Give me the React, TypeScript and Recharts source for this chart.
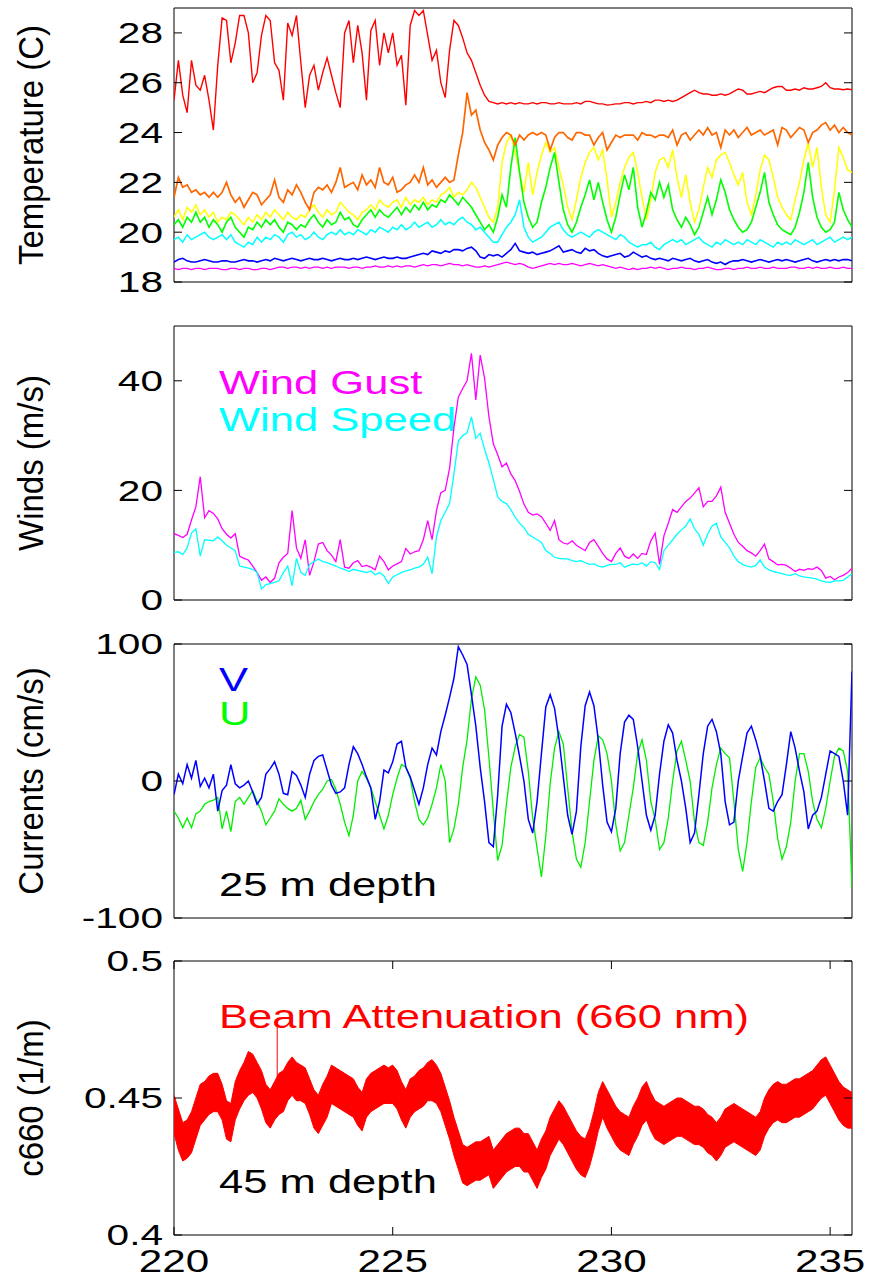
import React from "react";
import {
  LineChart,
  ComposedChart,
  Line,
  Area,
  XAxis,
  YAxis,
  ReferenceArea,
  Customized,
} from "recharts";

// ---------------- data (time step 0.1 day starting at 220.0) ----------------
const X0 = 220;
const DX = 0.1;

const tempRed = [
  25.3, 26.9, 25.5, 24.8, 26.9, 25.9, 25.7, 26.3, 25.3, 24.1,
  26.7, 28.6, 28.5, 26.8, 27.6, 28.7, 28.7, 28.0, 26.0, 26.4,
  27.9, 28.7, 28.5, 26.8, 26.5, 25.3, 28.4, 27.9, 28.7, 26.8,
  25.0, 26.3, 26.7, 25.7, 26.4, 27.0, 26.3, 25.6, 25.0, 28.0,
  28.5, 26.8, 28.3, 27.2, 25.3, 28.1, 28.5, 26.7, 28.0, 27.2,
  28.0, 26.7, 27.1, 25.1, 28.3, 28.9, 28.7, 28.9, 27.9, 26.9,
  27.3, 26.0, 25.4, 27.3, 28.5, 28.3, 27.8, 27.2, 26.9, 26.4,
  25.9, 25.5, 25.25, 25.2, 25.15, 25.2, 25.15, 25.2, 25.15, 25.2,
  25.15, 25.15, 25.2, 25.15, 25.2, 25.2, 25.15, 25.15, 25.2, 25.15,
  25.15, 25.15, 25.2, 25.15, 25.25, 25.25, 25.2, 25.15, 25.15, 25.1,
  25.12, 25.15, 25.15, 25.2, 25.2, 25.15, 25.2, 25.2, 25.25, 25.2,
  25.3, 25.3, 25.25, 25.3, 25.25, 25.3, 25.4, 25.5, 25.6, 25.7,
  25.6, 25.55, 25.55, 25.5, 25.5, 25.55, 25.5, 25.55, 25.65, 25.75,
  25.7, 25.55, 25.55, 25.6, 25.65, 25.6, 25.7, 25.8, 25.85, 25.85,
  25.7, 25.7, 25.75, 25.7, 25.8, 25.75, 25.75, 25.8, 25.85, 26.0,
  25.8, 25.75, 25.75, 25.72, 25.75, 25.72,
];

const tempOrange = [
  21.4, 22.2, 21.8, 21.9, 21.6, 21.7, 21.5, 21.6, 21.4, 21.6,
  21.4, 21.6, 22.0, 21.5, 21.2, 21.4, 21.0, 21.3, 21.6, 21.5,
  21.1, 21.3, 21.5, 22.1, 21.4, 21.2, 21.7, 21.5, 21.9, 21.6,
  21.2, 20.9, 21.6, 21.8, 21.7, 21.9, 21.6, 22.0, 22.6, 21.8,
  21.9, 22.0, 21.7, 22.3, 21.9, 22.1, 21.8, 22.6, 22.0, 21.9,
  22.2, 21.6, 21.7, 21.9, 22.0, 22.3, 22.0, 22.6, 21.9, 22.1,
  21.8, 22.0, 22.2, 22.0, 22.1, 23.1, 24.0, 25.6, 24.7, 24.9,
  24.1, 23.6, 23.3, 22.9, 23.5, 23.8, 24.0, 23.9, 23.5, 23.9,
  23.7, 23.9, 24.0, 23.9, 24.0, 23.9, 23.3, 23.8, 24.0, 24.0,
  23.8, 23.7, 24.0, 24.0, 23.9, 23.9, 23.5, 23.8, 24.0, 23.3,
  23.6, 23.9, 23.8, 23.9, 23.9, 23.9, 23.7, 24.0, 23.9, 23.9,
  23.8, 23.9, 23.9, 23.8, 24.1, 23.5, 23.9, 24.0, 23.7, 23.9,
  24.1, 23.9, 24.2, 23.9, 24.0, 23.4, 24.1, 23.9, 24.1, 23.8,
  24.0, 24.2, 23.9, 24.0, 24.1, 23.9, 24.0, 24.1, 23.5, 24.2,
  24.1, 23.8, 24.0, 24.2, 24.1, 23.6, 24.0, 24.1, 24.3, 24.4,
  24.1, 24.3, 24.0, 24.2, 24.0, 23.9,
];

const tempYellow = [
  20.6, 20.9, 20.5, 21.0, 20.8, 21.1, 20.7, 20.9, 20.6, 20.8,
  20.4, 20.6, 20.5, 20.8, 20.7, 20.5, 20.3, 20.6, 20.4, 20.7,
  20.5, 20.8, 20.6, 20.9, 20.7, 20.5, 20.8, 20.6, 20.5, 20.7,
  20.6, 20.9, 21.1, 20.8, 20.6, 20.9, 20.7, 20.8, 21.2, 21.0,
  20.8, 20.7, 20.5, 20.8, 20.9, 21.1, 20.9, 21.3, 21.1, 21.0,
  21.2, 21.3, 21.0, 21.4, 21.1, 21.3, 21.2, 21.4, 21.1, 21.3,
  21.2, 21.5, 21.6, 21.8, 21.4, 21.6, 21.5, 21.7, 22.0, 21.8,
  21.4, 21.0, 20.6, 20.4, 21.0, 22.8, 23.6, 23.9, 23.2, 22.4,
  21.6, 22.8, 21.5, 22.4, 23.1, 23.6, 23.2, 23.4, 22.6, 21.9,
  21.0, 20.5, 21.3, 22.2, 22.8, 23.2, 23.4, 22.9, 23.3, 22.1,
  20.6, 21.2, 22.0, 22.6, 23.0, 23.2, 22.4, 21.4, 20.5, 21.3,
  22.4, 22.9, 23.0, 22.6, 23.3, 22.2, 21.4, 22.3, 21.2, 20.4,
  20.9, 21.8, 22.6, 22.2, 22.9, 23.1, 23.2, 22.8, 22.3, 21.9,
  22.4, 21.2, 20.7, 21.5, 22.5, 23.1, 22.9, 22.2, 21.4, 21.0,
  20.7, 20.5, 21.3, 22.0, 22.9, 23.6, 22.6, 23.4, 21.8, 20.7,
  20.4, 21.7, 23.4, 23.0, 22.5, 22.4,
];

const tempGreen = [
  20.3, 20.5, 20.2, 20.6, 20.4, 20.8, 20.4, 20.6, 20.2, 20.5,
  20.3, 20.0, 20.4, 20.6, 20.2, 20.0, 19.8, 20.2, 20.1, 20.4,
  20.2, 20.5, 20.3, 20.5, 20.2, 20.0, 20.4, 20.3, 20.1, 20.3,
  20.2, 20.5, 20.7, 20.4, 20.2, 20.5, 20.3, 20.4, 20.8, 20.5,
  20.6, 20.3, 20.2, 20.5, 20.7, 20.9, 20.6, 20.9, 20.7, 20.6,
  20.8, 21.0, 20.7, 21.0, 20.8, 21.1, 20.9, 21.2, 20.9, 21.1,
  21.0, 21.3, 21.2, 21.5, 21.3, 21.1, 21.4, 21.2, 21.0, 20.7,
  20.4, 20.1, 20.3, 20.0, 20.6, 21.5, 21.0, 22.6, 23.8, 22.4,
  21.2, 20.6, 20.2, 20.4, 21.2, 21.8, 22.6, 23.2, 22.0, 20.9,
  20.3, 20.0, 20.4, 21.0, 21.5, 22.1, 21.3, 22.0, 21.2, 20.5,
  20.0, 20.6, 21.5, 22.3, 21.7, 22.6, 21.0, 20.2, 20.8, 21.6,
  21.3, 22.0, 21.4, 21.9, 20.9, 20.5, 20.2, 20.6, 20.3, 19.9,
  20.2, 20.8, 21.4, 20.7, 21.3, 22.1, 21.6, 20.9, 20.5, 20.2,
  20.0, 20.1, 20.4, 21.0, 21.6, 22.4, 21.2, 20.7, 20.3, 20.1,
  20.0, 19.9, 20.2, 20.8, 21.6, 22.8, 21.4, 20.6, 20.2, 20.0,
  20.1, 20.4, 21.6, 20.9, 20.5, 20.2,
];

const tempCyan = [
  19.7, 19.8, 19.6, 19.9, 19.7, 19.8, 19.9, 20.0, 19.8, 19.7,
  19.8, 19.9, 19.7, 19.9, 19.6, 19.5, 19.4, 19.6, 19.5, 19.8,
  19.6, 19.8, 19.7, 19.9, 19.8, 19.6, 19.9, 20.0, 19.8, 19.9,
  19.7, 19.8, 20.0, 19.8, 19.7, 19.9, 20.0, 19.9, 20.1, 19.9,
  20.0, 19.9, 20.1, 20.0, 19.9, 20.1, 20.0, 20.2, 20.1, 20.0,
  20.2, 20.1, 20.3, 20.1, 20.2, 20.4, 20.2, 20.3, 20.4, 20.2,
  20.3, 20.5, 20.3, 20.4, 20.3, 20.5, 20.6, 20.4, 20.3, 20.1,
  20.2, 20.0, 19.8, 19.6, 19.6, 19.9, 20.2, 20.4, 20.7, 21.3,
  20.2, 19.8, 19.6, 19.7, 19.8, 20.0, 20.2, 20.3, 20.4, 20.1,
  19.9, 19.8, 19.9, 20.0, 19.9, 19.8, 20.0, 20.1, 20.0, 19.9,
  19.8, 19.7, 19.9, 19.8, 19.6, 19.5, 19.4, 19.5, 19.5, 19.6,
  19.4, 19.3, 19.5, 19.6, 19.7, 19.6, 19.7, 19.5, 19.6, 19.7,
  19.8, 19.6, 19.5, 19.4, 19.6, 19.5, 19.7, 19.6, 19.5, 19.6,
  19.5, 19.7, 19.6, 19.5, 19.7, 19.6, 19.5, 19.4, 19.6, 19.5,
  19.6, 19.5, 19.7, 19.6, 19.5, 19.6, 19.7, 19.5, 19.6, 19.7,
  19.8, 19.6, 19.7, 19.8, 19.7, 19.8,
];

const tempBlue = [
  18.8, 18.9, 18.95, 18.85, 18.8, 18.8, 18.85, 18.9, 18.85, 18.8,
  18.8, 18.85, 18.85, 18.8, 18.8, 18.85, 18.9, 18.85, 18.85, 18.8,
  18.85, 18.9, 18.85, 18.95, 18.9, 18.85, 18.9, 18.95, 18.9, 18.85,
  18.9, 18.95, 18.9, 18.9, 18.95, 18.9, 18.85, 18.9, 18.95, 18.9,
  18.9, 18.95, 18.9, 18.95, 19.0, 18.95, 18.9, 18.95, 19.0, 18.95,
  18.95, 19.0, 18.95, 18.95, 19.0, 19.05, 19.1, 19.15, 19.1, 19.25,
  19.2, 19.15, 19.25, 19.2, 19.3, 19.3, 19.25, 19.35, 19.4, 19.25,
  19.0, 18.95, 19.1, 19.05, 19.1, 19.0, 19.15, 19.3, 19.55, 19.25,
  19.2, 19.15, 19.2, 19.1, 19.15, 19.2, 19.25, 19.35, 19.45, 19.2,
  19.25, 19.3, 19.2, 19.15, 19.35, 19.25, 19.3, 19.15, 19.05, 19.0,
  19.05, 19.1, 19.15, 19.0, 19.05, 19.2, 19.1, 19.0, 19.05, 18.95,
  18.9, 18.95, 18.9, 18.85, 18.95, 18.9, 18.85, 18.9, 18.95, 18.85,
  18.8, 18.85, 18.9, 18.8, 18.75, 18.8, 18.7, 18.8, 18.85, 18.85,
  18.9, 18.85, 18.8, 18.85, 18.9, 18.85, 18.8, 18.85, 18.9, 18.85,
  18.9, 18.85, 18.8, 18.85, 18.9, 18.95, 18.85, 18.8, 18.85, 18.9,
  18.85, 18.9, 18.85, 18.9, 18.9, 18.85,
];

const tempMagenta = [
  18.55, 18.5, 18.55, 18.55, 18.5, 18.55, 18.55, 18.5, 18.55, 18.55,
  18.55, 18.5, 18.5, 18.55, 18.55, 18.5, 18.55, 18.55, 18.5, 18.5,
  18.55, 18.55, 18.5, 18.55, 18.6, 18.6, 18.55, 18.6, 18.6, 18.55,
  18.6, 18.55, 18.6, 18.6, 18.55, 18.6, 18.55, 18.6, 18.6, 18.6,
  18.55, 18.6, 18.6, 18.55, 18.6, 18.6, 18.65, 18.6, 18.6, 18.65,
  18.6, 18.65, 18.6, 18.65, 18.65, 18.6, 18.65, 18.7, 18.65, 18.7,
  18.7, 18.65, 18.7, 18.75, 18.7, 18.7, 18.65, 18.7, 18.65, 18.6,
  18.6, 18.65, 18.6, 18.65, 18.7, 18.75, 18.8, 18.75, 18.7, 18.75,
  18.7, 18.6, 18.55, 18.6, 18.65, 18.7, 18.75, 18.7, 18.75, 18.7,
  18.7, 18.75, 18.7, 18.65, 18.7, 18.75, 18.7, 18.65, 18.7, 18.65,
  18.6, 18.55, 18.6, 18.55, 18.5, 18.55, 18.5, 18.55, 18.55, 18.6,
  18.55, 18.6, 18.55, 18.5, 18.55, 18.55, 18.6, 18.55, 18.55, 18.5,
  18.55, 18.55, 18.6, 18.55, 18.5, 18.5, 18.55, 18.55, 18.5, 18.55,
  18.55, 18.6, 18.55, 18.55, 18.6, 18.55, 18.55, 18.6, 18.55, 18.55,
  18.55, 18.6, 18.6, 18.55, 18.55, 18.6, 18.55, 18.6, 18.55, 18.55,
  18.6, 18.55, 18.55, 18.6, 18.55, 18.55,
];

const windGust = [
  12.1, 11.8, 11.4, 12.0, 14.6, 17.0, 22.5, 15.0, 16.3, 15.8,
  14.8, 13.0, 12.0, 11.3, 12.1, 8.0, 7.6, 7.3, 6.2, 5.0,
  3.6, 4.2, 3.2, 4.0, 6.8, 7.8, 8.5, 16.3, 9.5, 7.6,
  11.0, 4.5, 7.0, 10.2, 10.5, 9.0, 8.2, 7.0, 11.0, 6.0,
  5.8, 6.8, 7.2, 6.1, 6.3, 6.0, 5.5, 8.0, 7.0, 5.5,
  6.2, 6.6, 7.0, 9.4, 8.4, 8.8, 9.0, 11.0, 14.5, 11.0,
  16.3, 19.6, 20.0, 24.0, 31.5, 37.0, 38.6, 40.0, 45.0, 36.5,
  44.7, 40.5, 33.4, 28.5, 26.5, 24.3, 25.0, 23.0, 21.8, 19.8,
  17.5, 16.0, 15.5, 15.7, 15.2, 14.0, 12.7, 14.5, 11.0, 10.4,
  10.2, 10.8, 10.0, 9.5, 9.0, 10.5, 11.0, 9.8, 8.5, 7.5,
  7.0, 8.5, 9.5, 8.0, 7.6, 8.4, 7.6, 8.5, 8.3, 10.8,
  12.2, 6.5, 11.7, 14.0, 16.5, 16.0, 17.0, 18.0, 18.6, 19.5,
  20.5, 17.0, 18.0, 18.0, 19.0, 20.6, 16.0, 14.0, 12.0, 10.5,
  9.8, 9.0, 8.6, 8.0, 9.0, 10.2, 7.5, 7.0, 6.4, 6.5,
  6.3, 5.8, 5.2, 5.6, 5.4, 5.7, 5.6, 6.0, 5.4, 4.0,
  4.3, 3.7, 4.2, 4.5, 5.0, 5.8,
];

const windSpeed = [
  8.7, 8.8, 8.3, 9.5, 12.2, 13.0, 8.0, 11.0, 10.9, 10.8,
  11.5, 10.8, 10.0, 9.5, 9.0, 6.2, 6.0, 5.8, 5.6, 5.0,
  2.0, 2.8, 3.0, 3.2, 3.5, 5.0, 6.2, 2.6, 7.6, 5.0,
  4.5, 6.5, 7.0, 7.5, 7.0, 6.8, 6.5, 6.2, 5.8, 5.6,
  5.2, 5.6, 5.4, 5.2, 5.0, 5.3, 4.6, 5.0, 4.4, 3.0,
  4.2, 4.6, 5.0, 5.3, 5.5, 5.8, 6.0, 6.5, 7.8, 4.8,
  11.5, 14.5, 16.0, 17.6, 23.0, 29.0, 30.0, 30.5, 33.4, 29.5,
  30.4, 27.5, 25.0, 22.0, 18.8, 18.0, 17.6, 16.5, 15.1, 14.0,
  13.2, 12.0, 11.5, 11.0, 10.5, 9.0, 8.5, 7.8, 7.6, 7.5,
  7.5, 7.2, 7.0, 7.2, 6.8, 6.5, 6.6, 6.2, 6.0, 6.3,
  6.5, 6.5, 6.8, 6.0, 6.3, 6.6, 6.4, 6.8, 6.2, 7.0,
  6.8, 5.6, 9.0, 10.0, 11.0, 12.0, 12.8, 13.5, 14.8, 13.0,
  12.0, 10.0, 12.0, 13.5, 14.0, 11.5, 10.5, 9.5, 8.0, 7.0,
  6.5, 6.2, 6.0, 6.3, 7.3, 6.0, 5.5, 5.2, 5.0, 4.8,
  4.6, 4.5, 4.8, 4.4, 4.2, 4.1, 4.0, 3.8, 3.5, 3.3,
  3.2, 3.5, 3.5, 3.6, 4.2, 4.8,
];

const currentV = [
  -10, 5, -2, 12, 2, 15, -4, 2, -5, 5,
  -22, -7, -3, 12, -2, -5, -3, 0, -8, -17,
  -12, 5, 9, 14, 5, -9, -10, 7, 4, -3,
  -12, 5, 15, 18, 19, 8, -3, -9, -8, -5,
  12, 25, 20, 12, 3, -5, -28, -15, 8, 6,
  14, 27, 29, 10, 3, -7, -17, -5, 12, 24,
  19, 36, 48, 61, 75, 98, 92, 85, 63, 40,
  10, -15, -45, -48, -10, 40, 56, 50, 35, 18,
  0, -28, -38, -15, 20, 54, 63, 53, 31, 3,
  -25, -39, -22, 25, 55, 65, 55, 30, -3, -30,
  -37, -20, 20, 43, 48, 45, 25, 0, -25, -36,
  -25, 5, 29, 41, 35, 15, 0, -20, -45, -38,
  -10, 20, 40, 45, 36, 20, -15, -32, -30, 0,
  18, 35, 40, 30, 18, 0, -20, -22, -15, -10,
  12, 36, 24, 7, -8, -35, -25, -22, -12, 5,
  22, 20, 18, 0, -25, 80,
];

const currentU = [
  -22, -27, -34, -27, -34, -24, -22, -17, -15, -14,
  -12, -35, -22, -37, -15, -12, -17, -12, -7, -15,
  -22, -32, -27, -22, -13, -17, -20, -22, -20, -14,
  -28, -22, -15, -10, -6, 0, 1, -6, -17, -30,
  -40, -25, 0, 7, 2, -5, -15, -25, -35, -25,
  -10, 2, 12, 10, 2, -15, -28, -32, -27, -17,
  -5, 12, 0, -45, -35, -17, 10, 30, 60, 76,
  70, 52, 17, -22, -58, -47, -17, 10, 25, 34,
  32, 7, -27, -49, -70, -40, -2, 24, 36, 27,
  -5, -37, -57, -63, -45, -15, 15, 33, 30, 20,
  0, -32, -51, -45, -25, -5, 20, 30, 15, -15,
  -28, -50, -45, -27, 0, 22, 29, 15, 0, -30,
  -45, -47, -30, -5, 12, 24, 20, 17, -15, -50,
  -66, -45, -15, 10, 17, 10, 5, -15, -42, -57,
  -48, -30, 0, 20, 20, 7, -15, -28, -34, -20,
  0, 18, 24, 22, 7, -78,
];

const beamHigh = [
  0.451, 0.446, 0.441, 0.442, 0.445, 0.45, 0.455, 0.456, 0.458, 0.459,
  0.459, 0.455, 0.449, 0.448, 0.456, 0.46, 0.463, 0.467, 0.466, 0.463,
  0.46, 0.455, 0.453, 0.456, 0.459, 0.46, 0.463, 0.465, 0.463, 0.462,
  0.461, 0.457, 0.453, 0.451, 0.455, 0.458, 0.462, 0.461, 0.46, 0.459,
  0.458, 0.457, 0.454, 0.452, 0.457, 0.459, 0.46, 0.461, 0.462, 0.461,
  0.462, 0.46, 0.456, 0.453, 0.457, 0.458, 0.46, 0.461, 0.463, 0.464,
  0.462, 0.459, 0.454, 0.449, 0.443, 0.438, 0.433, 0.432, 0.433, 0.434,
  0.434, 0.435, 0.436, 0.431, 0.433, 0.435, 0.437, 0.438, 0.439, 0.439,
  0.437, 0.437, 0.434, 0.431, 0.435, 0.438, 0.443, 0.446, 0.449, 0.447,
  0.444, 0.441, 0.438, 0.436, 0.435, 0.439, 0.445, 0.452, 0.456, 0.453,
  0.45, 0.447, 0.445, 0.444, 0.443, 0.447, 0.45, 0.454, 0.456, 0.452,
  0.449, 0.448, 0.447, 0.448, 0.449, 0.45, 0.45, 0.449, 0.448, 0.447,
  0.447, 0.446, 0.444, 0.443, 0.441, 0.443, 0.446, 0.447, 0.448, 0.447,
  0.446, 0.445, 0.444, 0.443, 0.445, 0.45, 0.453, 0.455, 0.456, 0.455,
  0.455, 0.456, 0.457, 0.457, 0.458, 0.459, 0.46, 0.462, 0.464, 0.465,
  0.462, 0.459, 0.456, 0.454, 0.453, 0.452,
];

const beamLow = [
  0.437, 0.431, 0.427, 0.428, 0.43, 0.435, 0.44, 0.442, 0.444, 0.445,
  0.445, 0.442, 0.435, 0.434, 0.442, 0.446, 0.449, 0.451, 0.452, 0.45,
  0.446, 0.441, 0.439, 0.442, 0.444, 0.445, 0.449, 0.451, 0.449, 0.449,
  0.448, 0.444, 0.439, 0.437, 0.44, 0.443, 0.448, 0.447, 0.446, 0.445,
  0.444, 0.443, 0.44, 0.438, 0.443, 0.445, 0.446, 0.447, 0.448, 0.448,
  0.448, 0.446, 0.442, 0.439, 0.443, 0.445, 0.446, 0.447, 0.449, 0.449,
  0.448, 0.445, 0.44, 0.435, 0.429, 0.424, 0.419, 0.418, 0.419, 0.42,
  0.42, 0.421, 0.422, 0.417, 0.419, 0.421, 0.423, 0.424, 0.425, 0.425,
  0.423, 0.423, 0.42, 0.417, 0.421, 0.424, 0.429, 0.432, 0.435, 0.433,
  0.43, 0.427, 0.424, 0.422, 0.421, 0.425, 0.431, 0.438, 0.443, 0.439,
  0.436, 0.433, 0.431, 0.43, 0.429, 0.433, 0.436, 0.44, 0.442, 0.438,
  0.435, 0.434, 0.433, 0.434, 0.435, 0.436, 0.436, 0.435, 0.434, 0.433,
  0.433, 0.432, 0.43, 0.429, 0.427, 0.429, 0.432, 0.433, 0.434, 0.433,
  0.432, 0.431, 0.43, 0.429, 0.431, 0.436, 0.439, 0.441, 0.442, 0.441,
  0.441, 0.442, 0.443, 0.443, 0.444, 0.445, 0.446, 0.448, 0.45, 0.451,
  0.448, 0.445, 0.442, 0.44, 0.439, 0.439,
];

const beamSpike = [
  { x: 222.36, y: 0.449 },
  { x: 222.36, y: 0.4765 },
];

const xTicks = [220, 225, 230, 235];
const tempTicks = [18, 20, 22, 24, 26, 28];
const windTicks = [0, 20, 40];
const currentTicks = [-100, 0, 100];
const beamTicks = [0.4, 0.45, 0.5];

const X_DOMAIN: [number, number] = [220, 235.5];
const TEMP_DOMAIN: [number, number] = [18, 29];
const WIND_DOMAIN: [number, number] = [0, 50];
const CURRENT_DOMAIN: [number, number] = [-100, 100];
const BEAM_DOMAIN: [number, number] = [0.4, 0.5];

// ---------------- tables built from the arrays ----------------
const xAt = (i: number) => Math.round((X0 + i * DX) * 100) / 100;

const tempData = tempRed.map((v, i) => ({
  x: xAt(i),
  red: v,
  orange: tempOrange[i],
  yellow: tempYellow[i],
  green: tempGreen[i],
  cyan: tempCyan[i],
  blue: tempBlue[i],
  magenta: tempMagenta[i],
}));

const windData = windGust.map((v, i) => ({ x: xAt(i), gust: v, speed: windSpeed[i] }));
const currentData = currentV.map((v, i) => ({ x: xAt(i), v, u: currentU[i] }));
const beamData = beamHigh.map((h, i) => ({ x: xAt(i), band: [beamLow[i], h] }));

// ---------------- layout / style ----------------
const W = 873;
const PL = 174;
const PR = 852;
const PH = 274;
const MT = 24;
const MB = 24;
const XAXIS_H = 60;
const PANEL_TOPS = [8, 325.5, 643.5, 960.5];
const TICK_LEN = 8;
const FONT = '"Liberation Sans", Arial, Helvetica, sans-serif';

const YT_FS = 29;
const YT_SX = 1.4;
const XT_FS = 31;
const XT_SX = 1.36;
const XT_BASE = 37;
const TITLE_FS = 33;
const TITLE_X = 43;
const TITLE_SX = 1.05;
const NOTE_FS = 33;
const NOTE_SX = 1.32;
const NOTE_X = 219;

function StretchText(props: any) {
  const { x, y, sx, size, fill = "#000", anchor = "start", children } = props;
  return (
    <text
      transform={`translate(${x},${y}) scale(${sx},1)`}
      fontSize={size}
      fill={fill}
      textAnchor={anchor}
      fontFamily={FONT}
    >
      {children}
    </text>
  );
}

function YTick(props: any) {
  const { y, payload } = props;
  return (
    <g>
      <line x1={PL} x2={PL + TICK_LEN} y1={y} y2={y} stroke="#000" strokeWidth={1} />
      <line x1={PR - TICK_LEN} x2={PR} y1={y} y2={y} stroke="#000" strokeWidth={1} />
      <StretchText x={PL - 11} y={y + 0.358 * YT_FS} sx={YT_SX} size={YT_FS} anchor="end">
        {String(payload.value)}
      </StretchText>
    </g>
  );
}

function XTick(props: any) {
  const { x, payload } = props;
  const top = MT;
  const bottom = MT + PH;
  return (
    <g>
      <line x1={x} x2={x} y1={bottom - TICK_LEN} y2={bottom} stroke="#000" strokeWidth={1} />
      <line x1={x} x2={x} y1={top} y2={top + TICK_LEN} stroke="#000" strokeWidth={1} />
      <StretchText x={x} y={bottom + XT_BASE} sx={XT_SX} size={XT_FS} anchor="middle">
        {String(payload.value)}
      </StretchText>
    </g>
  );
}

function YTitle({ text }: { text: string }) {
  const cy = MT + PH / 2;
  return (
    <text
      transform={`translate(${TITLE_X},${cy}) scale(${TITLE_SX},1) rotate(-90)`}
      fontSize={TITLE_FS}
      textAnchor="middle"
      fill="#000"
      fontFamily={FONT}
    >
      {text}
    </text>
  );
}

function Notes({ panel, items }: { panel: number; items: { text: string; y: number; color: string }[] }) {
  const top = PANEL_TOPS[panel] - MT;
  return (
    <g>
      {items.map((it) => (
        <StretchText key={it.text} x={NOTE_X} y={it.y - top} sx={NOTE_SX} size={NOTE_FS} fill={it.color}>
          {it.text}
        </StretchText>
      ))}
    </g>
  );
}

const lineProps = {
  type: "linear" as const,
  dot: false,
  activeDot: false,
  isAnimationActive: false,
};

export default function App() {
  const chartMargin = { top: MT, right: W - PR, bottom: MB, left: 0 };
  const yAxisCommon = {
    type: "number" as const,
    width: PL,
    axisLine: false,
    tickLine: false,
    interval: 0 as const,
    allowDataOverflow: true,
    tick: (p: any) => <YTick {...p} />,
  };
  const hiddenX = (
    <XAxis dataKey="x" type="number" domain={X_DOMAIN} hide allowDataOverflow />
  );

  return (
    <div
      style={{
        position: "absolute",
        left: 0,
        top: 0,
        width: W,
        height: 1300,
        background: "#fff",
      }}
    >
      {/* Panel 1: temperature */}
      <div style={{ position: "absolute", left: 0, top: PANEL_TOPS[0] - MT }}>
        <LineChart width={W} height={MT + PH + MB} data={tempData} margin={chartMargin}>
          {hiddenX}
          <YAxis {...yAxisCommon} domain={TEMP_DOMAIN} ticks={tempTicks} />
          <ReferenceArea x1={220} x2={235.5} y1={18} y2={29} fill="none" stroke="#000" strokeWidth={1} ifOverflow="visible" />
          <Line {...lineProps} dataKey="yellow" stroke="#ffff00" strokeWidth={1.5} />
          <Line {...lineProps} dataKey="green" stroke="#00ff00" strokeWidth={1.6} />
          <Line {...lineProps} dataKey="cyan" stroke="#00ffff" strokeWidth={1.5} />
          <Line {...lineProps} dataKey="blue" stroke="#0000ff" strokeWidth={1.6} />
          <Line {...lineProps} dataKey="magenta" stroke="#ff00ff" strokeWidth={1.3} />
          <Line {...lineProps} dataKey="orange" stroke="#ff6600" strokeWidth={1.7} />
          <Line {...lineProps} dataKey="red" stroke="#ff0000" strokeWidth={1.4} />
          <Customized component={() => <YTitle text="Temperature (C)" />} />
        </LineChart>
      </div>

      {/* Panel 2: winds */}
      <div style={{ position: "absolute", left: 0, top: PANEL_TOPS[1] - MT }}>
        <LineChart width={W} height={MT + PH + MB} data={windData} margin={chartMargin}>
          {hiddenX}
          <YAxis {...yAxisCommon} domain={WIND_DOMAIN} ticks={windTicks} />
          <ReferenceArea x1={220} x2={235.5} y1={0} y2={50} fill="none" stroke="#000" strokeWidth={1} ifOverflow="visible" />
          <Line {...lineProps} dataKey="gust" stroke="#ff00ff" strokeWidth={1.3} />
          <Line {...lineProps} dataKey="speed" stroke="#00ffff" strokeWidth={1.3} />
          <Customized component={() => <YTitle text="Winds (m/s)" />} />
          <Customized
            component={() => (
              <Notes
                panel={1}
                items={[
                  { text: "Wind Gust", y: 393, color: "#ff00ff" },
                  { text: "Wind Speed", y: 430, color: "#00ffff" },
                ]}
              />
            )}
          />
        </LineChart>
      </div>

      {/* Panel 3: currents */}
      <div style={{ position: "absolute", left: 0, top: PANEL_TOPS[2] - MT }}>
        <LineChart width={W} height={MT + PH + MB} data={currentData} margin={chartMargin}>
          {hiddenX}
          <YAxis {...yAxisCommon} domain={CURRENT_DOMAIN} ticks={currentTicks} />
          <ReferenceArea x1={220} x2={235.5} y1={-100} y2={100} fill="none" stroke="#000" strokeWidth={1} ifOverflow="visible" />
          <Line {...lineProps} dataKey="u" stroke="#00ee00" strokeWidth={1.3} />
          <Line {...lineProps} dataKey="v" stroke="#0000ff" strokeWidth={1.5} />
          <Customized component={() => <YTitle text="Currents (cm/s)" />} />
          <Customized
            component={() => (
              <Notes
                panel={2}
                items={[
                  { text: "V", y: 690, color: "#0000ff" },
                  { text: "U", y: 724, color: "#00ff00" },
                  { text: "25 m depth", y: 895, color: "#000" },
                ]}
              />
            )}
          />
        </LineChart>
      </div>

      {/* Panel 4: beam attenuation */}
      <div style={{ position: "absolute", left: 0, top: PANEL_TOPS[3] - MT }}>
        <ComposedChart
          width={W}
          height={MT + PH + XAXIS_H}
          data={beamData}
          margin={{ top: MT, right: W - PR, bottom: 0, left: 0 }}
        >
          <XAxis
            dataKey="x"
            type="number"
            domain={X_DOMAIN}
            ticks={xTicks}
            interval={0}
            height={XAXIS_H}
            axisLine={false}
            tickLine={false}
            allowDataOverflow
            tick={(p: any) => <XTick {...p} />}
          />
          <YAxis {...yAxisCommon} domain={BEAM_DOMAIN} ticks={beamTicks} />
          <ReferenceArea x1={220} x2={235.5} y1={0.4} y2={0.5} fill="none" stroke="#000" strokeWidth={1} ifOverflow="visible" />
          <Area
            type="linear"
            dataKey="band"
            stroke="#ff0000"
            strokeWidth={1}
            fill="#ff0000"
            fillOpacity={1}
            dot={false}
            activeDot={false}
            isAnimationActive={false}
          />
          <Line {...lineProps} data={beamSpike} dataKey="y" stroke="#ff0000" strokeWidth={1} />
          <Customized component={() => <YTitle text="c660 (1/m)" />} />
          <Customized
            component={() => (
              <Notes
                panel={3}
                items={[
                  { text: "Beam Attenuation (660 nm)", y: 1027, color: "#ff0000" },
                  { text: "45 m depth", y: 1192, color: "#000" },
                ]}
              />
            )}
          />
        </ComposedChart>
      </div>
    </div>
  );
}
